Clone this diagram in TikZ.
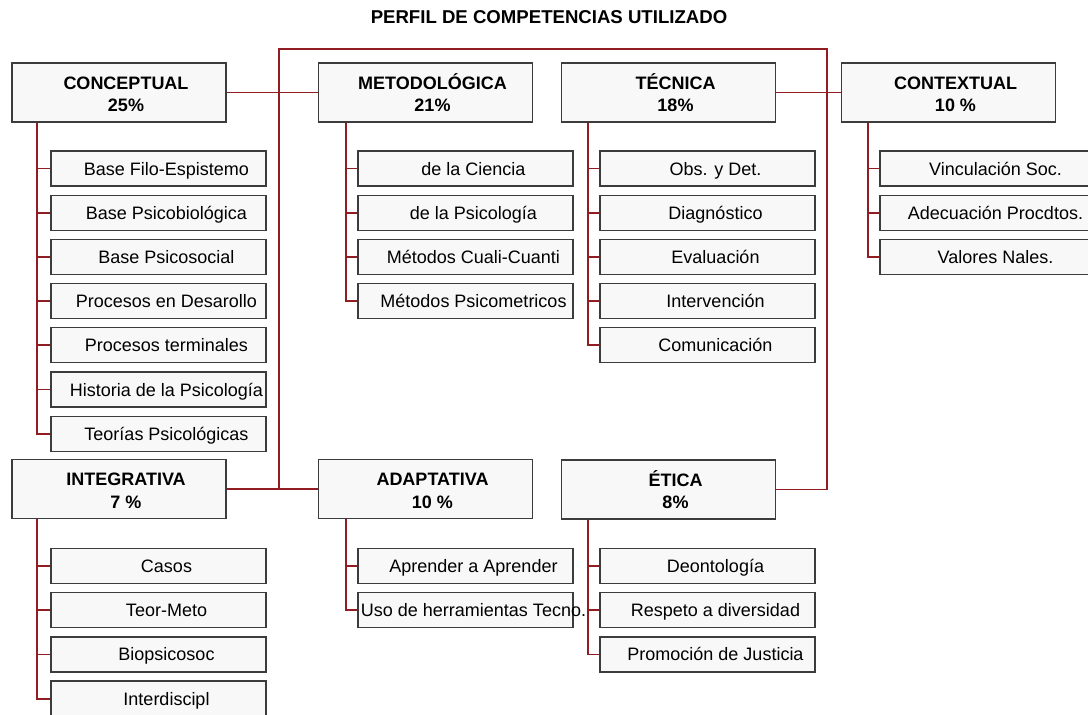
\documentclass[tikz,border=0pt]{standalone}
\usepackage{fontspec}
\setmainfont{Liberation Sans}

\definecolor{linkred}{RGB}{145,28,34}
\definecolor{boxgray}{RGB}{248,248,248}
\definecolor{edgegray}{RGB}{60,60,60}

\tikzstyle{mainbox} = [draw=edgegray, fill=boxgray, line width=1.3pt, minimum width=214pt, minimum height=59pt, inner sep=0pt, align=center, font=\bfseries\fontsize{18}{22.5}\selectfont]
\tikzstyle{subbox} = [draw=edgegray, fill=boxgray, line width=1.3pt, minimum width=215pt, minimum height=35pt, inner sep=0pt, text height=13pt, text depth=0pt, font=\fontsize{18}{22}\selectfont]
\tikzstyle{link} = [draw=linkred, line width=1.8pt]

\newcommand{\maintxt}[2]{\hspace*{14pt}\rule{0pt}{16.5pt}#1\\\hspace*{14pt}#2}
\newcommand{\subtxt}[1]{\hspace*{16pt}\makebox[199pt]{#1}}

\begin{document}
\begin{tikzpicture}[x=1pt, y=-1pt]
	\useasboundingbox (0, 0) rectangle (1088, 715);

	\node [font=\bfseries\fontsize{18.6}{20}\selectfont] at (549, 17) (title) {PERFIL DE COMPETENCIAS UTILIZADO};

	% competencias
	\node [mainbox] at (119, 92.5) (concep) {\maintxt{CONCEPTUAL}{25\%}};
	\node [mainbox] at (425.5, 92.5) (metodo) {\maintxt{METODOLÓGICA}{21\%}};
	\node [mainbox] at (668.5, 92.5) (tecnica) {\maintxt{TÉCNICA}{18\%}};
	\node [mainbox] at (948.5, 92.5) (context) {\maintxt{CONTEXTUAL}{10 \%}};
	\node [mainbox] at (119, 489) (integ) {\maintxt{INTEGRATIVA}{7 \%}};
	\node [mainbox] at (425.5, 489) (adapt) {\maintxt{ADAPTATIVA}{10 \%}};
	\node [mainbox] at (668.5, 489.5) (etica) {\maintxt{ÉTICA}{8\%}};

	% conceptual
	\node [subbox] at (158.5, 168.5) (c1) {\subtxt{Base Filo-Espistemo}};
	\node [subbox] at (158.5, 212.7) (c2) {\subtxt{Base Psicobiológica}};
	\node [subbox] at (158.5, 256.9) (c3) {\subtxt{Base Psicosocial}};
	\node [subbox] at (158.5, 301.1) (c4) {\subtxt{Procesos en Desarollo}};
	\node [subbox] at (158.5, 345.3) (c5) {\subtxt{Procesos terminales}};
	\node [subbox] at (158.5, 389.5) (c6) {\subtxt{Historia de la Psicología}};
	\node [subbox] at (158.5, 433.7) (c7) {\subtxt{Teorías Psicológicas}};

	% metodologica
	\node [subbox] at (465.5, 168.5) (m1) {\subtxt{de la Ciencia}};
	\node [subbox] at (465.5, 212.7) (m2) {\subtxt{de la Psicología}};
	\node [subbox] at (465.5, 256.9) (m3) {\subtxt{Métodos Cuali-Cuanti}};
	\node [subbox] at (465.5, 301.1) (m4) {\subtxt{Métodos Psicometricos}};

	% tecnica
	\node [subbox] at (707.5, 168.5) (t1) {\subtxt{Obs. y Det.}};
	\node [subbox] at (707.5, 212.7) (t2) {\subtxt{Diagnóstico}};
	\node [subbox] at (707.5, 256.9) (t3) {\subtxt{Evaluación}};
	\node [subbox] at (707.5, 301.1) (t4) {\subtxt{Intervención}};
	\node [subbox] at (707.5, 345.3) (t5) {\subtxt{Comunicación}};

	% contextual
	\node [subbox] at (987.5, 168.5) (x1) {\subtxt{Vinculación Soc.}};
	\node [subbox] at (987.5, 212.7) (x2) {\subtxt{Adecuación Procdtos.}};
	\node [subbox] at (987.5, 256.9) (x3) {\subtxt{Valores Nales.}};

	% integrativa
	\node [subbox] at (158.5, 566) (i1) {\subtxt{Casos}};
	\node [subbox] at (158.5, 610.2) (i2) {\subtxt{Teor-Meto}};
	\node [subbox] at (158.5, 654.4) (i3) {\subtxt{Biopsicosoc}};
	\node [subbox] at (158.5, 698.6) (i4) {\subtxt{Interdiscipl}};

	% adaptativa
	\node [subbox] at (465.5, 566) (a1) {\subtxt{Aprender a Aprender}};
	\node [subbox] at (465.5, 610.2) (a2) {\subtxt{Uso de herramientas Tecno.}};

	% etica
	\node [subbox] at (707.5, 566) (e1) {\subtxt{Deontología}};
	\node [subbox] at (707.5, 610.2) (e2) {\subtxt{Respeto a diversidad}};
	\node [subbox] at (707.5, 654.4) (e3) {\subtxt{Promoción de Justicia}};

	% enlaces
	\coordinate (tl) at (279, 49);
	\coordinate (tr) at (827, 49);
	\draw [link] (concep) -- (metodo);
	\draw [link] (tecnica) -- (context);
	\draw [link] (integ) -- (adapt);
	\draw [link] (tl |- integ.east) -- (tl) -- (tr) |- (etica.east);

	\foreach \s in {c1,c2,c3,c4,c5,c6,c7}
		\draw [link] ([xshift=26pt]concep.south west) |- (\s.west);
	\foreach \s in {m1,m2,m3,m4}
		\draw [link] ([xshift=28pt]metodo.south west) |- (\s.west);
	\foreach \s in {t1,t2,t3,t4,t5}
		\draw [link] ([xshift=27pt]tecnica.south west) |- (\s.west);
	\foreach \s in {x1,x2,x3}
		\draw [link] ([xshift=27pt]context.south west) |- (\s.west);
	\foreach \s in {i1,i2,i3,i4}
		\draw [link] ([xshift=26pt]integ.south west) |- (\s.west);
	\foreach \s in {a1,a2}
		\draw [link] ([xshift=28pt]adapt.south west) |- (\s.west);
	\foreach \s in {e1,e2,e3}
		\draw [link] ([xshift=27pt]etica.south west) |- (\s.west);
\end{tikzpicture}
\end{document}
